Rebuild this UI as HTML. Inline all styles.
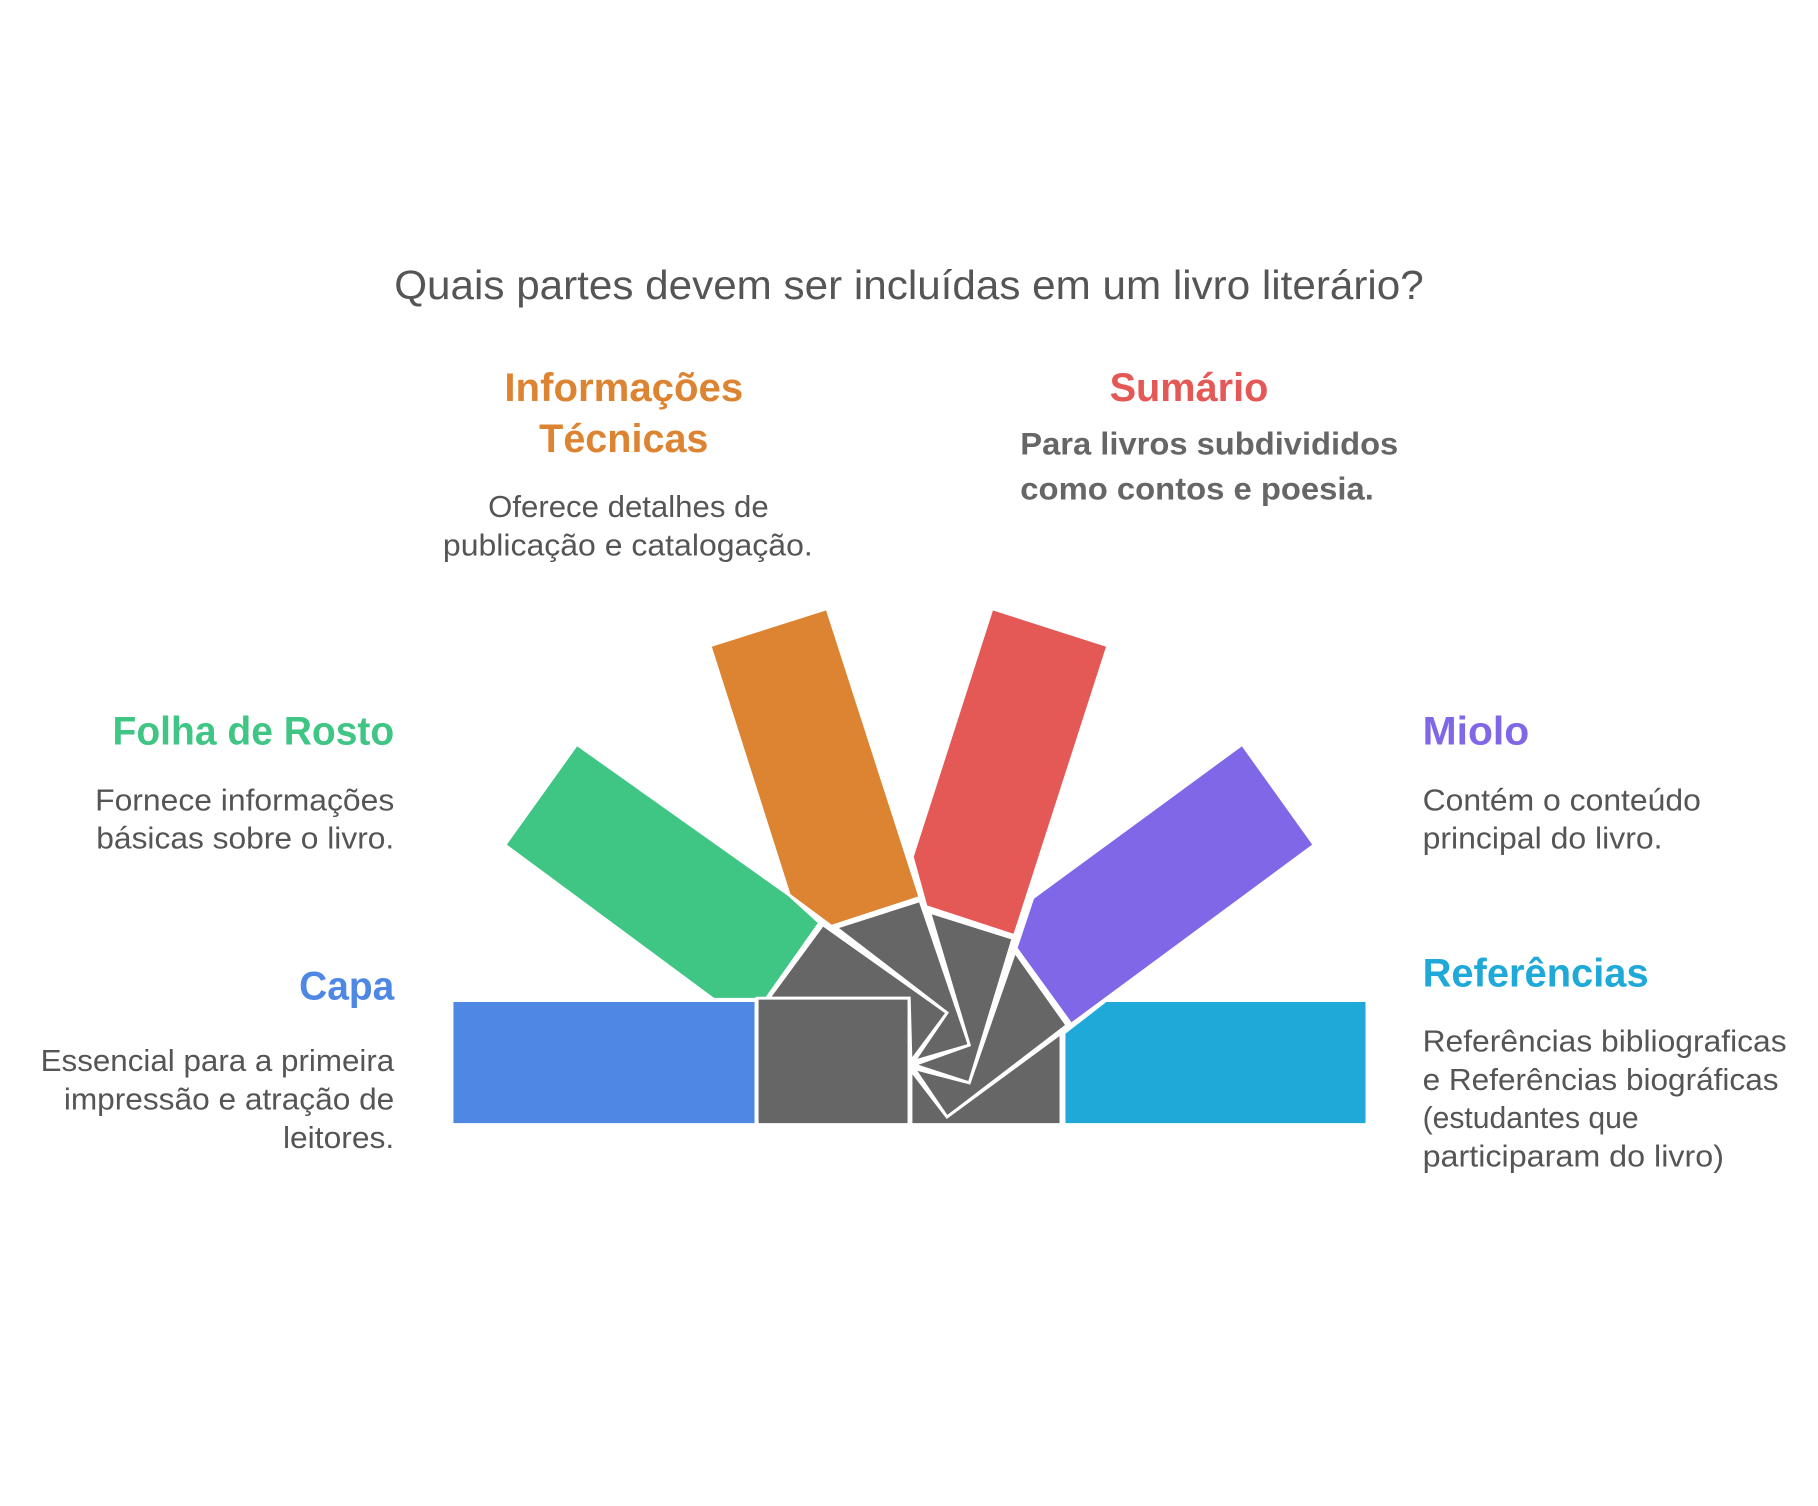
<!DOCTYPE html>
<html><head><meta charset="utf-8"><style>
html,body{margin:0;padding:0;background:#fff;}
svg{display:block;}
text{font-family:"Liberation Sans",Arial,sans-serif;}
</style></head><body>
<svg width="1818" height="1506" viewBox="0 0 1568 1299" xmlns="http://www.w3.org/2000/svg">
<rect width="1568" height="1299" fill="#fff"/>
<g stroke="#fff" stroke-width="2.5" stroke-linejoin="miter">
<polygon fill="#3fc684" points="497.5,642 435.4,728.8 615.5,862 660.5,862 707,796 680.7,772"/>
<polygon fill="#dd8432" points="713.3,525 612.4,557 680.7,772 717,799 793.5,774"/>
<polygon fill="#e45856" points="855.6,525 955.5,557 875,807 798.7,782 786.8,739"/>
<polygon fill="#8067e8" points="1071.4,642 1133.5,728.8 923.9,883.5 876.3,817.8 890.8,774.4"/>
<polygon fill="#4e88e4" points="389.8,863 652,863 652,970 389.8,970"/>
<polygon fill="#1fa9d9" points="953.9,863 1179,863 1179,970 917.7,970 917.7,891"/>
<polygon fill="#666" points="663,861 709.7,797.6 816.8,873.6 785.7,915.4 784.2,861"/>
<polygon fill="#666" points="721,800 793.5,776.8 836,901.5 788.3,915.4 816.8,873.6"/>
<polygon fill="#666" points="801.8,786.8 873.7,809.4 836,934 788.3,918.5 836,901.5"/>
<polygon fill="#666" points="875.3,820.9 920.3,884.4 816.8,963.5 788.3,921.6 836,934"/>
<polygon fill="#666" points="785.7,923 816.8,963.5 915.1,891.2 915.1,970 785.7,970"/>
<polygon fill="#666" points="653,861 784,861 784,970 653,970"/>
</g>
<text x="340" y="258" font-size="35" fill="#555" textLength="888" lengthAdjust="spacingAndGlyphs">Quais partes devem ser incluídas em um livro literário?</text>
<g font-weight="bold" font-size="34">
<text x="435" y="346" fill="#dd8432" textLength="206" lengthAdjust="spacingAndGlyphs">Informações</text>
<text x="465" y="390" fill="#dd8432" textLength="146" lengthAdjust="spacingAndGlyphs">Técnicas</text>
<text x="957" y="346" fill="#e45856" textLength="137" lengthAdjust="spacingAndGlyphs">Sumário</text>
<text x="97" y="642" fill="#3fc684" textLength="243" lengthAdjust="spacingAndGlyphs">Folha de Rosto</text>
<text x="258" y="862" fill="#4e88e4" textLength="82" lengthAdjust="spacingAndGlyphs">Capa</text>
<text x="1227" y="642" fill="#8067e8" textLength="92" lengthAdjust="spacingAndGlyphs">Miolo</text>
<text x="1227" y="851" fill="#1fa9d9" textLength="195" lengthAdjust="spacingAndGlyphs">Referências</text>
</g>
<g font-size="26" fill="#555">
<text x="421" y="446" textLength="242" lengthAdjust="spacingAndGlyphs">Oferece detalhes de</text>
<text x="382" y="479" textLength="319" lengthAdjust="spacingAndGlyphs">publicação e catalogação.</text>
<text x="82" y="699" textLength="258" lengthAdjust="spacingAndGlyphs">Fornece informações</text>
<text x="83" y="732" textLength="257" lengthAdjust="spacingAndGlyphs">básicas sobre o livro.</text>
<text x="35" y="924" textLength="305" lengthAdjust="spacingAndGlyphs">Essencial para a primeira</text>
<text x="55" y="957" textLength="285" lengthAdjust="spacingAndGlyphs">impressão e atração de</text>
<text x="244" y="990" textLength="96" lengthAdjust="spacingAndGlyphs">leitores.</text>
<text x="1227" y="699" textLength="240" lengthAdjust="spacingAndGlyphs">Contém o conteúdo</text>
<text x="1227" y="732" textLength="207" lengthAdjust="spacingAndGlyphs">principal do livro.</text>
<text x="1227" y="907" textLength="314" lengthAdjust="spacingAndGlyphs">Referências bibliograficas</text>
<text x="1227" y="940" textLength="307" lengthAdjust="spacingAndGlyphs">e Referências biográficas</text>
<text x="1227" y="973">(estudantes que</text>
<text x="1227" y="1006" textLength="260" lengthAdjust="spacingAndGlyphs">participaram do livro)</text>
</g>
<g font-size="27" fill="#666" font-weight="bold">
<text x="880" y="392" textLength="326" lengthAdjust="spacingAndGlyphs">Para livros subdivididos</text>
<text x="880" y="431" textLength="305" lengthAdjust="spacingAndGlyphs">como contos e poesia.</text>
</g>
</svg>
</body></html>
